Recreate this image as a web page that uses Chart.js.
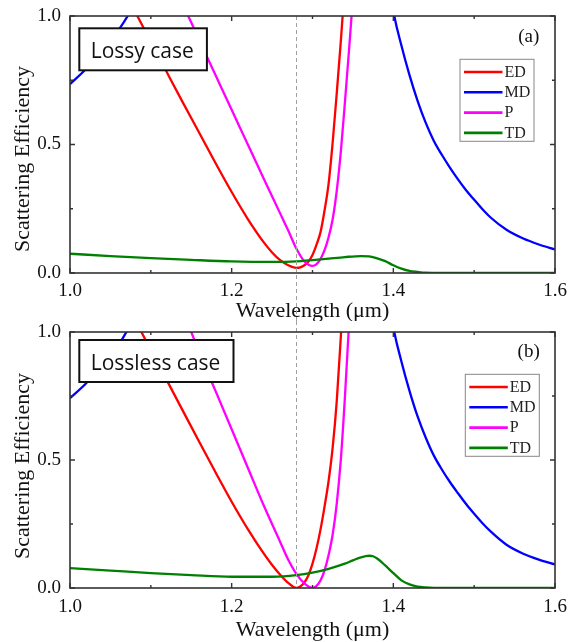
<!DOCTYPE html>
<html>
<head>
<meta charset="utf-8">
<script src="https://cdn.jsdelivr.net/npm/chart.js@4.4.0/dist/chart.umd.min.js"></script>
<style>
html, body { margin: 0; padding: 0; background: #fff; }
canvas { display: block; }
</style>
</head>
<body>
<canvas id="lossyChart" width="569" height="321"></canvas>
<canvas id="losslessChart" width="569" height="321"></canvas>
<script>
// series names / colours, ticks, dashed marker
var seriesNames = ['ED', 'MD', 'P', 'TD'];
var seriesColors = ['#ff0000', '#0000ff', '#ff00ff', '#008000'];
var xTicks = [1.0, 1.2, 1.4, 1.6];
var yTicks = [0.0, 0.5, 1.0];
var markerWl = 1.28;
var xTitle = 'Wavelength (\u03bcm)';
var yTitle = 'Scattering Efficiency';

// (a) lossy case
var lossyEdWl  = [1.00, 1.04, 1.08, 1.10, 1.12, 1.14, 1.16, 1.18, 1.20, 1.22, 1.24, 1.25, 1.26, 1.27, 1.28, 1.285, 1.29, 1.295, 1.30, 1.305, 1.31, 1.315, 1.32, 1.325, 1.33, 1.335, 1.34, 1.35];
var lossyEdVal = [1.50, 1.26, 1.02, 0.90, 0.78, 0.661, 0.545, 0.428, 0.315, 0.21, 0.118, 0.08, 0.05, 0.03, 0.02, 0.022, 0.03, 0.045, 0.07, 0.11, 0.16, 0.245, 0.35, 0.51, 0.70, 0.90, 1.12, 1.6];
var lossyMdWl  = [1.00, 1.02, 1.04, 1.06, 1.08, 1.10, 1.15, 1.25, 1.32, 1.36, 1.38, 1.39, 1.40, 1.41, 1.42, 1.43, 1.44, 1.45, 1.46, 1.47, 1.48, 1.49, 1.50, 1.51, 1.52, 1.54, 1.56, 1.58, 1.60];
var lossyMdVal = [0.735, 0.795, 0.87, 0.945, 1.05, 1.2, 1.6, 2.6, 3.2, 2.2, 1.5, 1.25, 1.02, 0.885, 0.77, 0.67, 0.585, 0.515, 0.46, 0.41, 0.364, 0.322, 0.285, 0.249, 0.217, 0.168, 0.135, 0.111, 0.092];
var lossyPWl   = [1.00, 1.08, 1.12, 1.14, 1.15, 1.16, 1.18, 1.20, 1.22, 1.24, 1.26, 1.27, 1.28, 1.29, 1.30, 1.305, 1.31, 1.315, 1.32, 1.325, 1.33, 1.335, 1.34, 1.345, 1.35, 1.36];
var lossyPVal  = [1.9, 1.45, 1.17, 1.04, 0.975, 0.905, 0.77, 0.635, 0.50, 0.365, 0.232, 0.165, 0.095, 0.045, 0.028, 0.035, 0.055, 0.09, 0.14, 0.21, 0.32, 0.47, 0.66, 0.86, 1.07, 1.5];
var lossyTdWl  = [1.00, 1.05, 1.10, 1.15, 1.20, 1.25, 1.28, 1.30, 1.32, 1.34, 1.36, 1.37, 1.38, 1.39, 1.40, 1.41, 1.42, 1.43, 1.44, 1.46, 1.50, 1.55, 1.60];
var lossyTdVal = [0.075, 0.066, 0.058, 0.051, 0.045, 0.043, 0.045, 0.05, 0.056, 0.062, 0.066, 0.065, 0.057, 0.046, 0.03, 0.017, 0.008, 0.004, 0.001, 0, 0, 0, 0];

// (b) lossless case
var losslessEdWl  = [1.00, 1.04, 1.08, 1.10, 1.12, 1.14, 1.16, 1.18, 1.20, 1.22, 1.24, 1.25, 1.26, 1.27, 1.28, 1.285, 1.29, 1.295, 1.30, 1.305, 1.31, 1.315, 1.32, 1.325, 1.33, 1.335, 1.34, 1.35];
var losslessEdVal = [1.53, 1.29, 1.05, 0.93, 0.81, 0.69, 0.57, 0.452, 0.337, 0.23, 0.133, 0.09, 0.052, 0.02, 0.0, 0.006, 0.022, 0.05, 0.095, 0.155, 0.23, 0.32, 0.42, 0.55, 0.73, 0.98, 1.25, 1.8];
var losslessMdWl  = [1.00, 1.02, 1.04, 1.06, 1.08, 1.10, 1.15, 1.25, 1.32, 1.36, 1.38, 1.39, 1.40, 1.41, 1.42, 1.43, 1.44, 1.45, 1.46, 1.47, 1.48, 1.49, 1.50, 1.51, 1.52, 1.54, 1.56, 1.58, 1.60];
var losslessMdVal = [0.742, 0.80, 0.875, 0.95, 1.06, 1.2, 1.6, 2.6, 3.2, 2.2, 1.5, 1.25, 1.02, 0.885, 0.77, 0.67, 0.588, 0.518, 0.463, 0.414, 0.37, 0.328, 0.29, 0.254, 0.222, 0.169, 0.135, 0.111, 0.092];
var losslessPWl   = [1.00, 1.08, 1.12, 1.14, 1.15, 1.16, 1.18, 1.20, 1.22, 1.24, 1.26, 1.27, 1.28, 1.29, 1.30, 1.305, 1.31, 1.315, 1.32, 1.325, 1.33, 1.335, 1.34, 1.345, 1.35];
var losslessPVal  = [1.9, 1.5, 1.23, 1.08, 1.0, 0.92, 0.77, 0.62, 0.47, 0.32, 0.18, 0.11, 0.055, 0.018, 0.0, 0.008, 0.03, 0.07, 0.13, 0.21, 0.33, 0.50, 0.74, 1.02, 1.35];
var losslessTdWl  = [1.00, 1.05, 1.10, 1.15, 1.20, 1.25, 1.28, 1.30, 1.32, 1.34, 1.35, 1.36, 1.37, 1.375, 1.38, 1.39, 1.40, 1.41, 1.42, 1.43, 1.44, 1.46, 1.50, 1.55, 1.60];
var losslessTdVal = [0.078, 0.068, 0.058, 0.05, 0.044, 0.044, 0.05, 0.06, 0.075, 0.095, 0.108, 0.12, 0.126, 0.124, 0.115, 0.088, 0.058, 0.03, 0.014, 0.005, 0.002, 0, 0, 0, 0];

function pairs(xs, ys) {
    var out = [];
    for (var i = 0; i < xs.length; i++) out.push({x: xs[i], y: ys[i]});
    return out;
}

function makeDatasets(series) {
    // TD drawn on top, ED at the back (like the original plot order)
    return series.map(function(s, i) {
        return {
            label: seriesNames[i],
            data: pairs(s[0], s[1]),
            borderColor: seriesColors[i],
            borderWidth: 2.3,
            pointRadius: 0,
            fill: false,
            cubicInterpolationMode: 'monotone',
            order: 3 - i
        };
    });
}

var serif = '"Liberation Serif", "Times New Roman", serif';

// scale boxes are fixed so the plot area lands where it should
function noPad(s) {
    s.paddingLeft = 0; s.paddingRight = 0; s.paddingTop = 0; s.paddingBottom = 0;
}

// frame, inward ticks, legend box, case label, y title, dashed marker
var decorPlugin = {
    id: 'decor',
    afterDatasetsDraw: function(chart, args, o) {
        var ctx = chart.ctx, a = chart.chartArea;
        ctx.save();
        // case label box
        ctx.font = '21px "Open Sans", sans-serif';
        var tw = ctx.measureText(o.caseText).width;
        var bx = a.left + 9.3, by = a.top + o.caseTop;
        ctx.fillStyle = '#fff';
        ctx.fillRect(bx, by, tw + 24.5, 42);
        ctx.strokeStyle = '#111';
        ctx.lineWidth = 2;
        ctx.strokeRect(bx, by, tw + 24.5, 42);
        ctx.fillStyle = '#111';
        ctx.textBaseline = 'alphabetic';
        ctx.textAlign = 'left';
        ctx.fillText(o.caseText, bx + 11.4, by + 29.5);

        // legend
        var lx = a.right - o.legendRight, ly = a.top + o.legendTop;
        ctx.fillStyle = '#fff';
        ctx.fillRect(lx, ly, 74, 82);
        ctx.strokeStyle = '#888';
        ctx.lineWidth = 1;
        ctx.strokeRect(lx, ly, 74, 82);
        ctx.font = '16px ' + serif;
        ctx.textBaseline = 'middle';
        for (var i = 0; i < seriesNames.length; i++) {
            var yy = ly + 12.7 + i * 20.3;
            ctx.strokeStyle = seriesColors[i];
            ctx.lineWidth = 2.6;
            ctx.beginPath();
            ctx.moveTo(lx + 4, yy);
            ctx.lineTo(lx + 42.5, yy);
            ctx.stroke();
            ctx.fillStyle = '#222';
            ctx.fillText(seriesNames[i], lx + 44.5, yy + 0.5);
        }

        // panel tag
        ctx.font = '19px ' + serif;
        ctx.textAlign = 'center';
        ctx.fillStyle = '#111';
        ctx.fillText(o.tag, a.right - 26.3, a.top + o.tagTop);
        ctx.restore();
    },
    afterDraw: function(chart, args, o) {
        var ctx = chart.ctx, a = chart.chartArea;
        var xs = chart.scales.x, ys = chart.scales.y;
        ctx.save();
        // y axis title (sits a little below the plot centre in the original)
        ctx.translate(23, o.yTitleY);
        ctx.rotate(-Math.PI / 2);
        ctx.font = '22px ' + serif;
        ctx.fillStyle = '#111';
        ctx.textAlign = 'center';
        ctx.textBaseline = 'middle';
        ctx.fillText(yTitle, 0, 0);
        ctx.setTransform(1, 0, 0, 1, 0, 0);

        // dashed marker
        var mx = Math.round(xs.getPixelForValue(markerWl)) + 0.5;
        ctx.strokeStyle = '#a0a0a0';
        ctx.lineWidth = 1;
        ctx.setLineDash([4, 3]);
        ctx.beginPath();
        ctx.moveTo(mx, o.dashFromTop ? a.top : 0);
        ctx.lineTo(mx, o.dashFromTop ? chart.height : a.bottom);
        ctx.stroke();
        ctx.setLineDash([]);

        // frame
        ctx.strokeStyle = '#333';
        ctx.lineWidth = 1.6;
        ctx.strokeRect(a.left, a.top, a.right - a.left, a.bottom - a.top);

        // inward ticks on all four sides
        ctx.lineWidth = 1.4;
        ctx.beginPath();
        function xt(v, len) {
            var p = xs.getPixelForValue(v);
            ctx.moveTo(p, a.bottom); ctx.lineTo(p, a.bottom - len);
            ctx.moveTo(p, a.top); ctx.lineTo(p, a.top + len);
        }
        function yt(v, len) {
            var p = ys.getPixelForValue(v);
            ctx.moveTo(a.left, p); ctx.lineTo(a.left + len, p);
            ctx.moveTo(a.right, p); ctx.lineTo(a.right - len, p);
        }
        for (var i = 0; i < xTicks.length; i++) {
            xt(xTicks[i], 5);
            if (i > 0) xt((xTicks[i] + xTicks[i - 1]) / 2, 3);
        }
        for (var j = 0; j < yTicks.length; j++) {
            yt(yTicks[j], 5);
            if (j > 0) yt((yTicks[j] + yTicks[j - 1]) / 2, 3);
        }
        ctx.stroke();
        ctx.restore();
    }
};

function makeChart(id, series, cfg) {
    return new Chart(document.getElementById(id), {
        type: 'line',
        data: { datasets: makeDatasets(series) },
        options: {
            responsive: false,
            animation: false,
            layout: { padding: { left: 0, right: 14, top: cfg.padTop, bottom: 0 } },
            plugins: {
                legend: { display: false },
                tooltip: { enabled: false },
                decor: cfg.decor
            },
            scales: {
                x: {
                    type: 'linear',
                    min: 1.0,
                    max: 1.6,
                    afterBuildTicks: function(s) { s.ticks = xTicks.map(function(v) { return {value: v}; }); },
                    afterFit: function(s) { s.height = cfg.xHeight; noPad(s); },
                    grid: { display: false, drawTicks: false },
                    border: { display: false },
                    ticks: {
                        padding: cfg.tickPad,
                        color: '#111',
                        font: { family: serif, size: 19, lineHeight: 1 },
                        maxRotation: 0,
                        callback: function(v) { return Number(v).toFixed(1); }
                    },
                    title: {
                        display: true,
                        text: xTitle,
                        color: '#111',
                        font: { family: serif, size: 22, lineHeight: 1 },
                        padding: { top: 0, bottom: cfg.titlePad }
                    }
                },
                y: {
                    min: 0,
                    max: 1.0,
                    afterBuildTicks: function(s) { s.ticks = yTicks.map(function(v) { return {value: v}; }); },
                    afterFit: function(s) { s.width = 70; noPad(s); },
                    grid: { display: false, drawTicks: false },
                    border: { display: false },
                    ticks: {
                        padding: 9,
                        color: '#111',
                        font: { family: serif, size: 19, lineHeight: 1 },
                        callback: function(v) { return Number(v).toFixed(1); }
                    },
                    title: { display: false, text: yTitle }
                }
            }
        },
        plugins: [decorPlugin]
    });
}

makeChart('lossyChart', [
    [lossyEdWl, lossyEdVal],
    [lossyMdWl, lossyMdVal],
    [lossyPWl, lossyPVal],
    [lossyTdWl, lossyTdVal]
], {
    padTop: 16, xHeight: 48, titlePad: -1.5, tickPad: 9,
    decor: { caseText: 'Lossy case', caseTop: 12.3, legendRight: 95, legendTop: 43.3, tag: '(a)', tagTop: 21.5, dashFromTop: true, yTitleY: 159 }
});

makeChart('losslessChart', [
    [losslessEdWl, losslessEdVal],
    [losslessMdWl, losslessMdVal],
    [losslessPWl, losslessPVal],
    [losslessTdWl, losslessTdVal]
], {
    padTop: 11, xHeight: 54, titlePad: 1, tickPad: 10,
    decor: { caseText: 'Lossless case', caseTop: 8, legendRight: 89.7, legendTop: 42.3, tag: '(b)', tagTop: 20.5, dashFromTop: false, yTitleY: 145 }
});
</script>
</body>
</html>
